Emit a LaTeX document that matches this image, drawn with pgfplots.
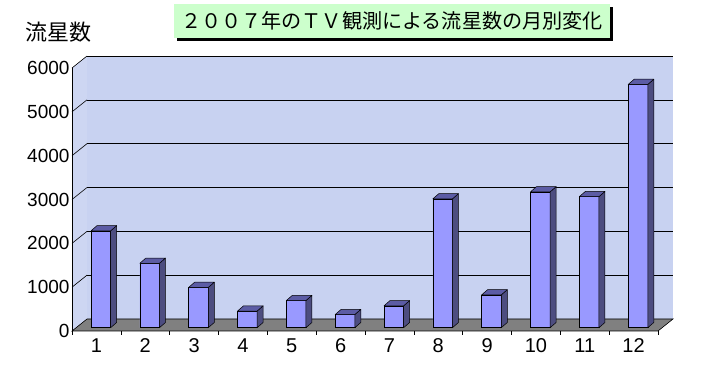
\documentclass[border=0pt]{standalone}
\usepackage{pgfplots}
\pgfplotsset{compat=1.18}
\usepackage{pgfplotstable}
\usepackage{fontspec}
\setmainfont{Liberation Sans}
\newfontfamily\jp{Noto Sans CJK JP}
\definecolor{wallc}{RGB}{200,210,241}
\definecolor{barfront}{RGB}{153,153,255}
\definecolor{bartop}{RGB}{92,92,165}
\definecolor{barside}{RGB}{77,77,128}
\definecolor{floorc}{RGB}{128,128,128}
\definecolor{titlebg}{RGB}{204,255,204}

\pgfplotstableread{
m v
1 2210
2 1470
3 920
4 380
5 620
6 300
7 500
8 2940
9 750
10 3100
11 2990
12 5550
}\meteors

\begin{document}
\begin{tikzpicture}[x=1pt,y=1pt]
\useasboundingbox (0,0) rectangle (705,378);
% title
\fill[black] (177,337) rectangle (613,371);
\fill[titlebg] (174,340) rectangle (610,374);
\node[inner sep=0pt] at (392,357) {\jp\fontsize{20.1}{24}\selectfont ２００７年のＴＶ観測による流星数の月別変化};
\node[inner sep=0pt] at (59,346) {\jp\fontsize{22}{26}\selectfont 流星数};
\begin{axis}[
  at={(72pt,47pt)}, anchor=south west,
  scale only axis, width=586pt, height=263pt,
  xmin=0.5, xmax=12.5, ymin=0, ymax=6000,
  clip=false,
  axis line style={draw=none},
  xtick={1,...,12},
  xticklabels={1,2,3,4,5,6,7,8,9,10,11,12},
  minor xtick={0.5,1.5,...,12.5},
  xtick pos=bottom, ytick pos=left,
  major tick length=0pt, minor tick length=4pt,
  xtick align=outside,
  major x tick style={draw=none},
  minor x tick style={draw=black, line width=0.6pt},
  ytick={0,1000,2000,3000,4000,5000,6000},
  yticklabels={0,1000,2000,3000,4000,5000,6000},
  ytick style={draw=none},
  scaled y ticks=false,
  xticklabel style={font=\fontsize{20}{23}\selectfont, yshift=-4pt},
  yticklabel style={font=\fontsize{19}{22}\selectfont, xshift=1pt},
]
% back wall
\fill[wallc] ([shift={(15pt,12pt)}]axis cs:0.5,0) rectangle ([shift={(15pt,12pt)}]axis cs:12.5,6000);
% left wall
\fill[wallc!92!white] (axis cs:0.5,0) -- (axis cs:0.5,6000) -- ([shift={(15pt,12pt)}]axis cs:0.5,6000) -- ([shift={(15pt,12pt)}]axis cs:0.5,0) -- cycle;
% floor
\filldraw[fill=floorc, draw=black, line width=0.6pt] (axis cs:0.5,0) -- (axis cs:12.5,0) -- ([shift={(15pt,12pt)}]axis cs:12.5,0) -- ([shift={(15pt,12pt)}]axis cs:0.5,0) -- cycle;
% grid lines and diagonals
\pgfplotsinvokeforeach{1000,2000,3000,4000,5000,6000}{
  \draw[black, line width=0.6pt] ([shift={(15pt,12pt)}]axis cs:0.5,#1) -- ([shift={(15pt,12pt)}]axis cs:12.5,#1);
  \draw[black, line width=0.6pt] (axis cs:0.5,#1) -- ([shift={(15pt,12pt)}]axis cs:0.5,#1);
}
\draw[black, line width=0.6pt] (axis cs:0.5,0) -- (axis cs:0.5,6000);
% 3D faces of bars
\addplot[
  only marks, scatter, mark=*, mark size=0pt,
  visualization depends on={\thisrow{v} \as \rawv},
  scatter/@pre marker code/.code={%
    \pgfmathsetmacro{\bot}{3.3-\rawv/6000*263}%
    \begin{scope}[x=1pt,y=1pt]
    \filldraw[fill=barside, draw=black, line width=0.5pt, line join=round]
      (14.2,\bot) -- (14.2,3.3) -- (20.2,8.5) -- (20.2,\bot+5.2) -- cycle;
    \filldraw[fill=bartop, draw=black, line width=0.5pt, line join=round]
      (-5.4,3.3) -- (14.2,3.3) -- (20.2,8.5) -- (0.6,8.5) -- cycle;
    \end{scope}
  },
  scatter/@post marker code/.code={},
] table[x=m, y=v] {\meteors};
% front faces
\addplot[ybar, bar width=19.6pt, bar shift=4.4pt, yshift=3.3pt,
  fill=barfront, draw=black, line width=0.5pt] table[x=m, y=v] {\meteors};
\end{axis}
\end{tikzpicture}
\end{document}
